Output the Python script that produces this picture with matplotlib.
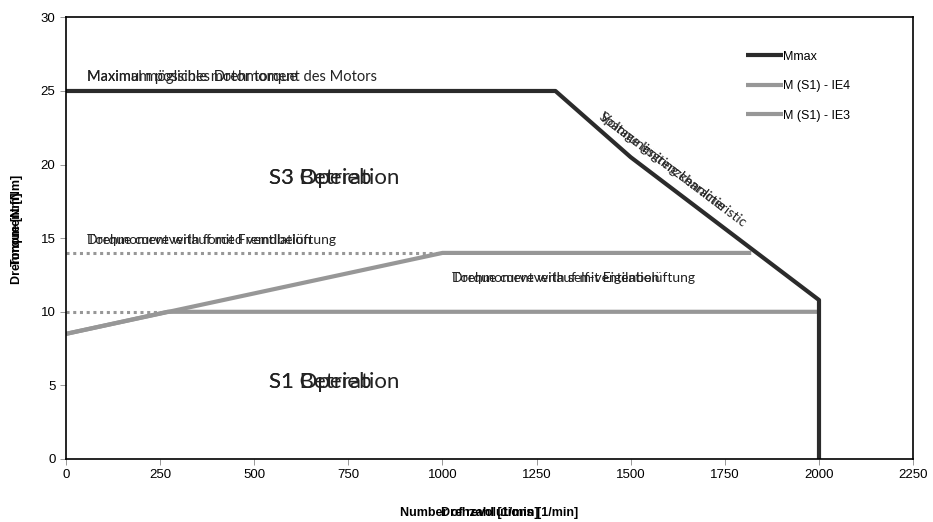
import matplotlib
matplotlib.use('Agg')
import matplotlib.pyplot as plt

# speed [1/min] / torque [Nm]
mmax_x = [0, 1300, 1500, 2000, 2000]
mmax_y = [25, 25, 20.5, 10.8, 0]
ie4_x = [0, 1000, 1820]
ie4_y = [8.5, 14, 14]
ie3_x = [0, 270, 2000]
ie3_y = [8.5, 10, 10]
dot14_x = [0, 1000]
dot14_y = [14, 14]
dot10_x = [0, 270]
dot10_y = [10, 10]

xticks = [0, 250, 500, 750, 1000, 1250, 1500, 1750, 2000, 2250]
yticks = [0, 5, 10, 15, 20, 25, 30]

dark = '#2b2b2b'
grey = '#979797'
txtfont = ['Lato', 'DejaVu Sans']

fig = plt.figure(figsize=(9.33, 5.22), dpi=100)
ax = fig.add_axes([0.0707, 0.1207, 0.908, 0.846])

ax.plot(dot14_x, dot14_y, color=grey, lw=2.2, ls=(0, (1, 1.2)))
ax.plot(dot10_x, dot10_y, color=grey, lw=2.2, ls=(0, (1, 1.2)))
ax.plot(ie3_x, ie3_y, color=grey, lw=3, label='M (S1) - IE3', solid_capstyle='butt')
ax.plot(ie4_x, ie4_y, color=grey, lw=3, label='M (S1) - IE4', solid_capstyle='butt')
ax.plot(mmax_x, mmax_y, color=dark, lw=3, label='Mmax', solid_capstyle='butt')

ax.set_xlim(0, 2250)
ax.set_ylim(0, 30)
ax.set_xticks(xticks)
ax.set_yticks(yticks)
for lab in ax.get_xticklabels() + ax.get_yticklabels():
    lab.set_fontfamily('Liberation Sans')
    lab.set_fontsize(9.5)
ax.tick_params(direction='out', length=4, width=0.6, color='#888888')
for s in ax.spines.values():
    s.set_linewidth(1.2)
    s.set_color('black')

# overlapping German / English labels, as in the original
for t in ['Drehzahl [1/min]', 'Number of revolutions [1/min]']:
    ax.text(0.5, -0.122, t, transform=ax.transAxes, ha='center', va='center',
            fontsize=9, fontweight='bold', family='Liberation Sans')
for t in ['Drehmoment [Nm]', 'Torque [Nm]']:
    ax.text(-0.058, 0.52, t, transform=ax.transAxes, ha='center', va='center',
            rotation=90, fontsize=9, fontweight='bold', family='Liberation Sans')

for t in ['Maximal mögliches Drehmoment des Motors', 'Maximum possible motor torque']:
    ax.text(55, 25.5, t, fontsize=10.5, family=txtfont, va='bottom', color='#222222')
for t in ['Drehmomentverlauf mit Fremdbelüftung', 'Torque curve with forced ventilation']:
    ax.text(55, 14.5, t, fontsize=10, family=txtfont, va='bottom', color='#222222')
for t in ['Drehmomentverlauf mit Eigenbelüftung', 'Torque curve with self-ventilation']:
    ax.text(1025, 12.3, t, fontsize=10, family=txtfont, va='center', color='#222222')
for t in ['S3 Betrieb', 'S3 Operation']:
    ax.text(540, 19.1, t, fontsize=16, family=txtfont, va='center', color='#222222')
for t in ['S1 Betrieb', 'S1 Operation']:
    ax.text(540, 5.2, t, fontsize=16, family=txtfont, va='center', color='#222222')
for t in ['Spannungsgrenzkennlinie', 'Voltage limiting characteristic']:
    ax.text(1410, 23.0, t, fontsize=10, family=txtfont, rotation=-37,
            rotation_mode='anchor', ha='left', va='bottom', color='#222222')

h, l = ax.get_legend_handles_labels()
order = [2, 1, 0]
ax.legend([h[i] for i in order], [l[i] for i in order], loc='upper left',
          bbox_to_anchor=(0.79, 0.95), frameon=False, handlelength=2.9,
          handletextpad=0.0, labelspacing=1.4,
          prop={'family': 'Liberation Sans', 'size': 9})

fig.savefig('out.png', dpi=100)
